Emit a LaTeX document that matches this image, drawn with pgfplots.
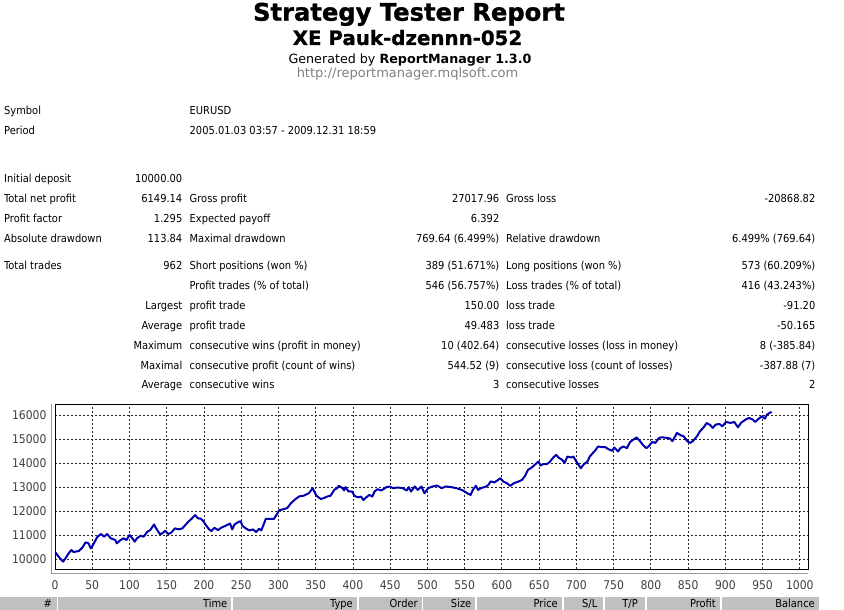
\documentclass[border=0pt]{standalone}
\usepackage{fontspec}
\setmainfont{DejaVu Sans Condensed}
\newfontfamily\headfont{DejaVu Sans}
\usepackage{pgfplots}
\pgfplotsset{compat=1.18}
\usepackage{pgfplotstable}

\definecolor{balblue}{RGB}{0,0,175}
\definecolor{hdrgray}{RGB}{192,192,192}
\definecolor{urlgray}{RGB}{128,128,128}

% balance after each closed trade
\pgfplotstableread{
n v
0 10180
1 10264
3 10167
8 9986
11 9890
14 10028
19 10264
22 10375
25 10292
32 10333
37 10486
41 10695
45 10653
48 10445
51 10584
57 10931
62 11042
66 10931
70 11042
75 10862
81 10792
83 10653
88 10792
92 10862
96 10792
100 11000
104 10862
107 10723
110 10862
115 10973
119 10931
124 11140
128 11209
133 11446
135 11320
141 11029
144 11070
148 11181
152 11042
156 11098
161 11279
166 11237
171 11279
175 11418
179 11557
184 11696
188 11835
192 11700
196 11680
199 11580
203 11400
207 11235
210 11166
214 11304
219 11207
223 11304
230 11400
235 11483
238 11235
241 11442
246 11538
249 11580
252 11373
257 11262
261 11193
266 11235
270 11124
274 11262
277 11193
281 11511
283 11676
288 11676
294 11676
299 11925
301 12035
308 12090
312 12132
317 12339
323 12504
328 12615
334 12642
341 12753
346 12960
348 12822
351 12642
357 12504
361 12546
366 12615
370 12642
375 12891
379 12960
381 13056
386 12960
388 12863
390 13001
394 12822
399 12817
402 12633
407 12577
411 12605
414 12464
418 12577
422 12676
426 12605
429 12817
433 12915
438 12859
445 13000
449 13028
454 12958
460 12986
467 12958
472 12859
475 13000
478 12817
483 13028
487 12887
492 13028
496 12746
501 12958
507 13028
513 13070
519 12958
525 13028
532 13000
539 12958
546 12887
550 12817
555 12718
558 12676
561 12887
565 13056
568 12887
572 12958
579 13028
582 13099
585 13240
590 13197
594 13282
598 13372
602 13232
607 13162
611 13051
616 13162
622 13232
627 13302
631 13470
635 13721
640 13818
644 13930
649 14070
652 13902
655 13958
660 13958
664 14042
669 14237
673 14349
676 14237
681 14140
684 14000
688 14279
693 14237
696 14279
700 14070
706 13791
710 13958
715 14070
718 14279
722 14419
726 14558
729 14698
735 14670
739 14670
743 14586
748 14517
751 14656
756 14489
759 14628
763 14698
768 14628
772 14879
776 14977
781 15075
785 14935
790 14740
794 14628
797 14708
802 14889
806 14847
811 15056
815 15083
822 15056
826 15028
829 14917
835 15264
840 15167
844 15125
849 14917
853 14847
857 14944
862 15125
866 15334
871 15500
875 15681
880 15584
883 15473
887 15612
892 15639
896 15542
901 15723
907 15681
912 15723
917 15500
921 15681
927 15820
932 15890
937 15820
940 15723
945 15862
949 15959
953 15862
956 16029
962 16149
}\balance

\newcommand{\bodyfont}{\fontsize{11}{13}\selectfont}

\begin{document}
\begin{tikzpicture}[x=1pt,y=-1pt]
\useasboundingbox (0,0) rectangle (844,610);
\clip (0,0) rectangle (844,610);

% ---- heading ----
\node[anchor=base,inner sep=0] at (409,20.7) {\headfont\bfseries\addfontfeature{FakeBold=1.2}\fontsize{24.2}{26}\selectfont Strategy Tester Report};
\node[anchor=base,inner sep=0] at (407.5,45) {\headfont\bfseries\addfontfeature{FakeBold=1}\fontsize{19.8}{21}\selectfont XE Pauk-dzennn-052};
\node[anchor=base,inner sep=0] at (410,63.3) {\headfont\fontsize{12.7}{14}\selectfont Generated by \textbf{ReportManager 1.3.0}};
\node[anchor=base,inner sep=0,text=urlgray] at (407.5,77.3) {\headfont\fontsize{13}{14}\selectfont http://reportmanager.mqlsoft.com};

% ---- summary table ----
\begin{scope}[every node/.style={inner sep=0}]
\newcommand{\La}[2]{\node[anchor=base west] at (4,#1) {\bodyfont #2};}
\newcommand{\Vb}[2]{\node[anchor=base east] at (182.5,#1) {\bodyfont #2};}
\newcommand{\Lc}[2]{\node[anchor=base west] at (189.5,#1) {\bodyfont #2};}
\newcommand{\Vd}[2]{\node[anchor=base east] at (499.5,#1) {\bodyfont #2};}
\newcommand{\Le}[2]{\node[anchor=base west] at (506,#1) {\bodyfont #2};}
\newcommand{\Vf}[2]{\node[anchor=base east] at (815.5,#1) {\bodyfont #2};}

\La{114.8}{Symbol} \Lc{114.8}{EURUSD}
\La{134.5}{Period} \Lc{134.5}{2005.01.03 03:57 - 2009.12.31 18:59}

\La{182.3}{Initial deposit} \Vb{182.3}{10000.00}
\La{202.5}{Total net profit} \Vb{202.5}{6149.14} \Lc{202.5}{Gross profit} \Vd{202.5}{27017.96} \Le{202.5}{Gross loss} \Vf{202.5}{-20868.82}
\La{222.5}{Profit factor} \Vb{222.5}{1.295} \Lc{222.5}{Expected payoff} \Vd{222.5}{6.392}
\La{242.8}{Absolute drawdown} \Vb{242.8}{113.84} \Lc{242.8}{Maximal drawdown} \Vd{242.8}{769.64 (6.499\%)} \Le{242.8}{Relative drawdown} \Vf{242.8}{6.499\% (769.64)}

\La{269.5}{Total trades} \Vb{269.5}{962} \Lc{269.5}{Short positions (won \%)} \Vd{269.5}{389 (51.671\%)} \Le{269.5}{Long positions (won \%)} \Vf{269.5}{573 (60.209\%)}
\Lc{289.3}{Profit trades (\% of total)} \Vd{289.3}{546 (56.757\%)} \Le{289.3}{Loss trades (\% of total)} \Vf{289.3}{416 (43.243\%)}
\Vb{309.2}{Largest} \Lc{309.2}{profit trade} \Vd{309.2}{150.00} \Le{309.2}{loss trade} \Vf{309.2}{-91.20}
\Vb{329}{Average} \Lc{329}{profit trade} \Vd{329}{49.483} \Le{329}{loss trade} \Vf{329}{-50.165}
\Vb{349}{Maximum} \Lc{349}{consecutive wins (profit in money)} \Vd{349}{10 (402.64)} \Le{349}{consecutive losses (loss in money)} \Vf{349}{8 (-385.84)}
\Vb{369}{Maximal} \Lc{369}{consecutive profit (count of wins)} \Vd{369}{544.52 (9)} \Le{369}{consecutive loss (count of losses)} \Vf{369}{-387.88 (7)}
\Vb{388.5}{Average} \Lc{388.5}{consecutive wins} \Vd{388.5}{3} \Le{388.5}{consecutive losses} \Vf{388.5}{2}
\end{scope}

% ---- balance chart ----
\begin{axis}[
  at={(55pt,-569pt)}, anchor=south west,
  scale only axis, width=753pt, height=165pt,
  xmin=0, xmax=1011, ymin=9582, ymax=16472,
  xtick={0,50,...,1000}, ytick={10000,11000,...,16000},
  grid=major,
  major grid style={black!85, line width=0.8pt, dash pattern=on 2pt off 2pt},
  axis line style={black, line width=0.9pt},
  major tick length=0pt,
  scaled ticks=false,
  /pgf/number format/assume math mode=true,
  /pgf/number format/set thousands separator={},
  tick label style={font=\fontsize{12}{12}\selectfont, text=black!75},
  xticklabel style={yshift=-8pt},
  yticklabel style={xshift=-5pt},
]
\addplot[balblue, line width=2pt, line join=round] table[x=n, y=v] {\balance};
\end{axis}

% offset axis rulers
\draw[black!40, line width=0.9pt] (51.5,404) -- (51.5,573.3) -- (808,573.3);

% ---- trade list header ----
\begin{scope}[every node/.style={inner sep=0, anchor=base east}]
\foreach \l/\r in {0/56.5, 58/231, 232.5/357, 358.5/421.5, 423/475, 476.5/562, 563.5/603, 604.5/645, 646.5/720, 722/818.5}{
  \fill[hdrgray] (\l,597) rectangle (\r,612);
}
\node at (52,607.8) {\bodyfont \#};
\node at (227.5,607.8) {\bodyfont Time};
\node at (353,607.8) {\bodyfont Type};
\node at (418,607.8) {\bodyfont Order};
\node at (471.5,607.8) {\bodyfont Size};
\node at (558,607.8) {\bodyfont Price};
\node at (597.5,607.8) {\bodyfont S/L};
\node at (638,607.8) {\bodyfont T/P};
\node at (716,607.8) {\bodyfont Profit};
\node at (815,607.8) {\bodyfont Balance};
\end{scope}
\end{tikzpicture}
\end{document}
